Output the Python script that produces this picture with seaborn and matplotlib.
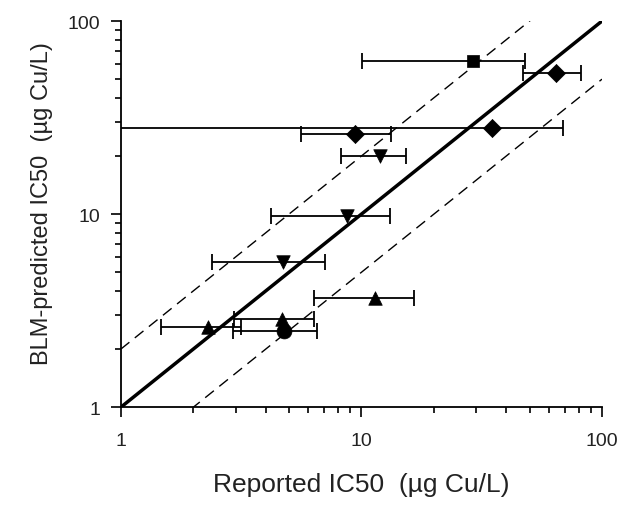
import numpy as np
import pandas as pd
import matplotlib
matplotlib.use("Agg")
import matplotlib.pyplot as plt
import seaborn as sns
from matplotlib.ticker import LogLocator, FixedLocator, NullFormatter

sns.set_style("ticks")
plt.rcParams['font.family'] = ['Liberation Sans', 'DejaVu Sans']

# data
group = ["square", "diamond", "diamond", "diamond", "down", "down", "down",
         "up", "up", "up", "circle"]
reported = [29.0, 64.2, 9.4, 34.8, 11.9, 8.7, 4.74, 11.4, 4.67, 2.31, 4.77]
predicted = [61.8, 53.6, 26.1, 28.0, 20.1, 9.81, 5.63, 3.69, 2.86, 2.61, 2.49]
rep_low = [10.1, 47.1, 5.6, 0.5, 8.23, 4.21, 2.40, 6.34, 2.97, 1.47, 2.94]
rep_high = [48.0, 81.5, 13.3, 68.6, 15.4, 13.1, 7.06, 16.5, 6.34, 3.15, 6.56]
line_x = [1, 100]
tick_vals = [1, 10, 100]
tick_labels = ["1", "10", "100"]

df = pd.DataFrame({"group": group, "reported": reported, "predicted": predicted,
                   "lo": rep_low, "hi": rep_high})

fig = plt.figure(figsize=(6.2, 5.06), dpi=100)
ax = fig.add_axes([0.1947, 0.193, 0.7763, 0.7635])

# reference lines
lx = np.array(line_x, dtype=float)
ax.plot(lx, lx, color="black", lw=2.5, zorder=2)
ax.plot(lx, 2 * lx, color="black", lw=1.0, dashes=(8, 5), zorder=2)
ax.plot(lx, lx / 2, color="black", lw=1.0, dashes=(8, 5), zorder=2)

# error bars
xerr = np.array([df["reported"] - df["lo"], df["hi"] - df["reported"]])
ax.errorbar(df["reported"], df["predicted"], xerr=xerr, fmt="none",
            ecolor="black", elinewidth=1.3, capsize=5.5, capthick=1.3, zorder=3)

markers = {"square": "s", "diamond": "D", "down": "v", "up": "^", "circle": "o"}
sizes = {"square": 80, "diamond": 85, "down": 95, "up": 95, "circle": 115}
for g, sub in df.groupby("group"):
    sns.scatterplot(data=sub, x="reported", y="predicted", marker=markers[g],
                    s=sizes[g], color="black", edgecolor="black", linewidth=0.5,
                    ax=ax, zorder=4, legend=False)

ax.set_xscale("log")
ax.set_yscale("log")
ax.set_xlim(1, 100)
ax.set_ylim(1, 100)
ax.xaxis.set_major_locator(FixedLocator(tick_vals))
ax.yaxis.set_major_locator(FixedLocator(tick_vals))
ax.set_xticklabels(tick_labels)
ax.set_yticklabels(tick_labels)
ax.xaxis.set_minor_locator(LogLocator(base=10, subs=np.arange(2, 10)))
ax.yaxis.set_minor_locator(LogLocator(base=10, subs=np.arange(2, 10)))
ax.xaxis.set_minor_formatter(NullFormatter())
ax.yaxis.set_minor_formatter(NullFormatter())
ax.tick_params(which="major", length=7, width=1.2, direction="out", labelsize=14,
               color="black", labelcolor="#222222")
ax.tick_params(which="minor", length=4, width=1.2, direction="out", color="black")
ax.tick_params(axis="x", pad=11)
ax.tick_params(axis="y", pad=8)

for side in ["top", "right"]:
    ax.spines[side].set_visible(False)
for side in ["left", "bottom"]:
    ax.spines[side].set_linewidth(1.3)
    ax.spines[side].set_color("black")

ax.set_xlabel("Reported IC50  (\u00b5g Cu/L)", fontsize=19, labelpad=16,
              color="#222222")
ax.set_ylabel("BLM-predicted IC50  (\u00b5g Cu/L)", fontsize=17, labelpad=10.5,
              color="#222222")
ax.yaxis.label.set_y(0.53)
ax.grid(False)

fig.savefig("out.png", dpi=100, facecolor="white")
